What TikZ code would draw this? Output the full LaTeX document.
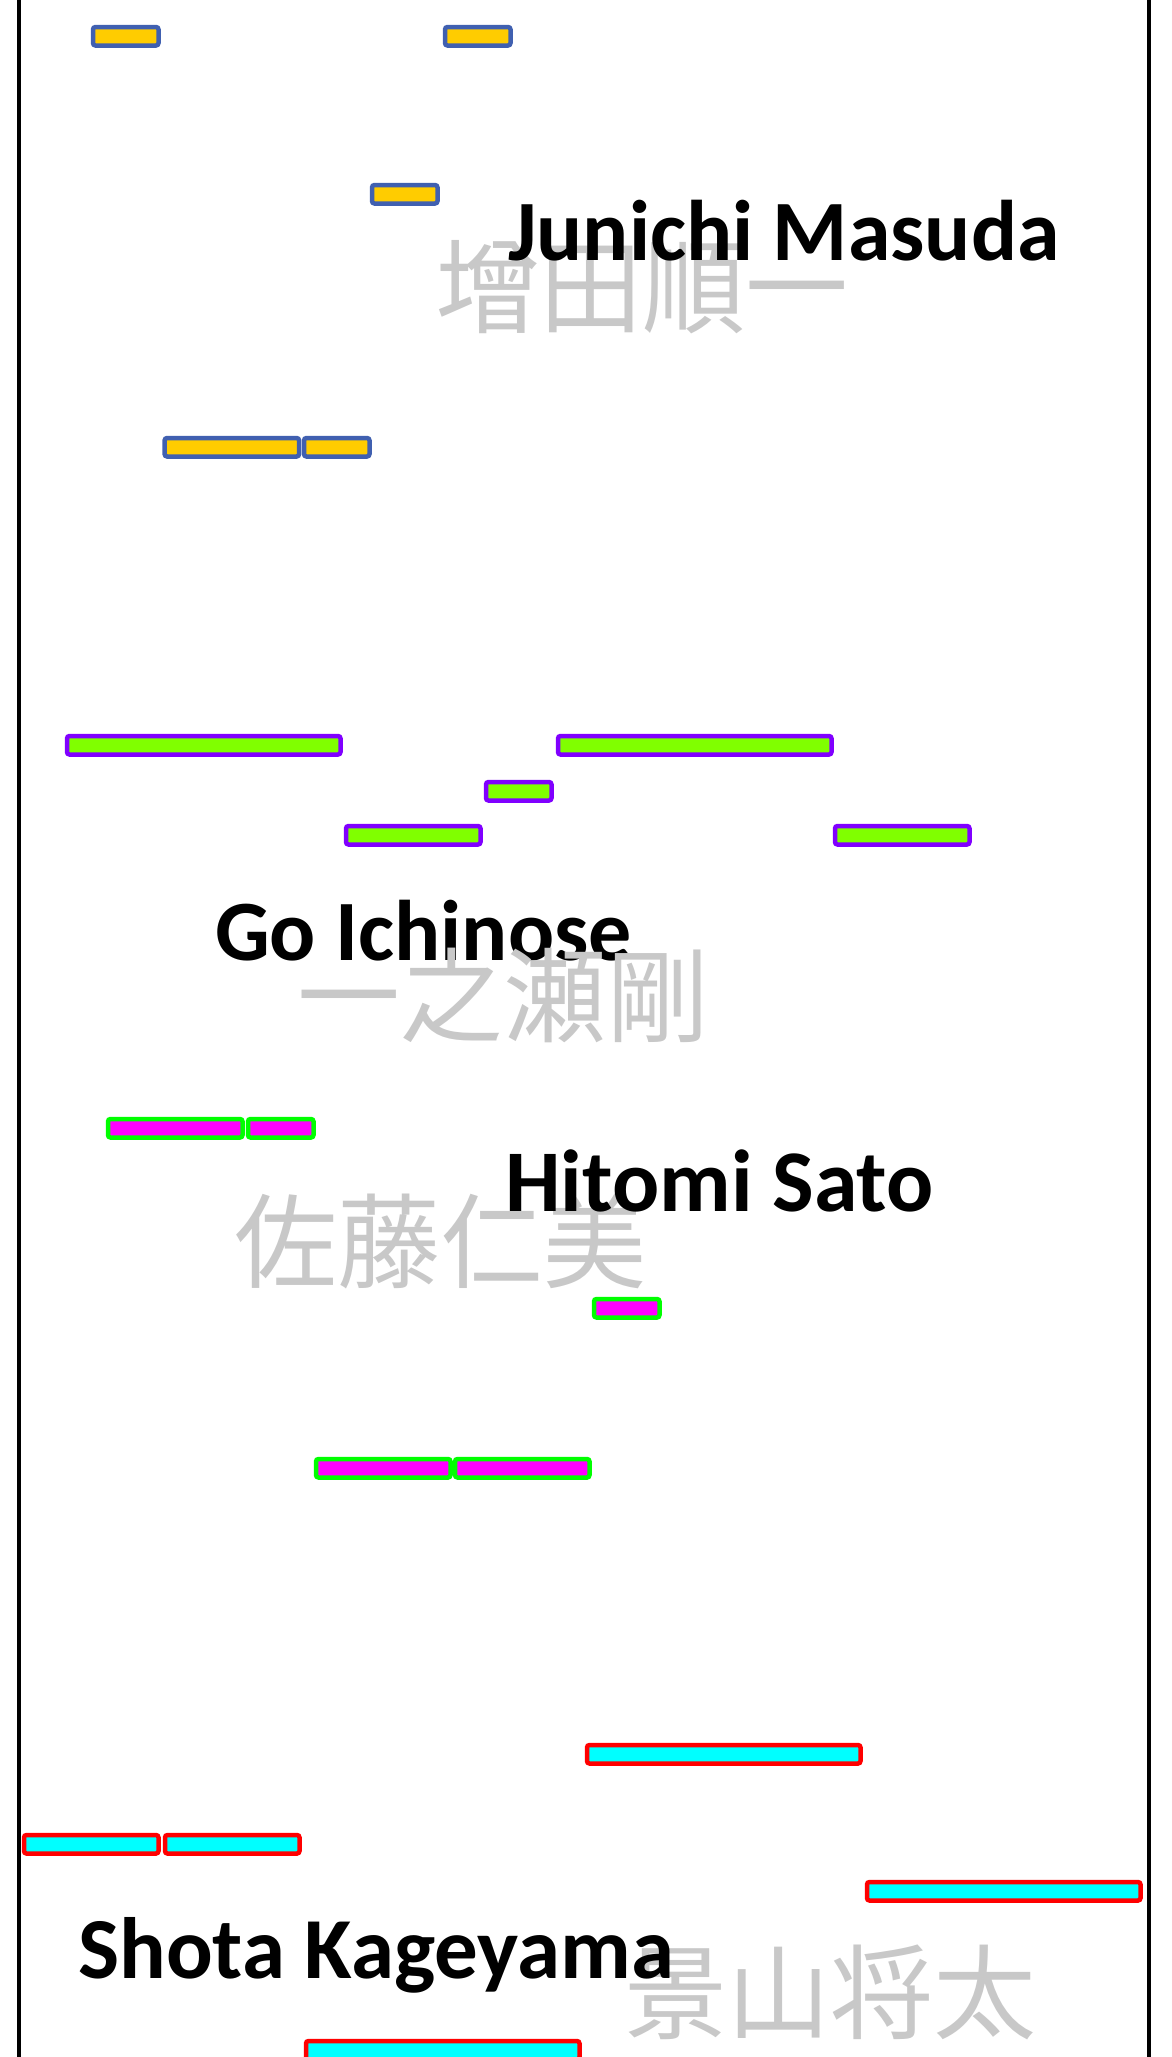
\documentclass[tikz,border=0pt]{standalone}
\usepackage{fontspec}
\setmainfont{Carlito}
\newfontfamily\cjk{Noto Sans CJK JP}
\definecolor{ybord}{RGB}{64,96,176}
\definecolor{yfill}{RGB}{255,204,0}
\definecolor{pbord}{RGB}{128,0,255}
\definecolor{pfill}{RGB}{128,255,0}
\definecolor{mbord}{RGB}{0,255,0}
\definecolor{mfill}{RGB}{255,0,255}
\definecolor{cbord}{RGB}{255,0,0}
\definecolor{cfill}{RGB}{0,255,255}
\definecolor{kgray}{RGB}{200,200,200}
\tikzset{
  bar/.style={draw, line width=4.5pt, rounded corners=2.5pt, inner sep=0pt,
    minimum height=18.5pt, anchor=north west},
  u1/.style={minimum width=65.5pt},
  u2/.style={minimum width=134.5pt},
  u4/.style={minimum width=273.5pt},
  ybar/.style={bar, draw=ybord, fill=yfill},
  pbar/.style={bar, draw=pbord, fill=pfill},
  mbar/.style={bar, draw=mbord, fill=mfill},
  cbar/.style={bar, draw=cbord, fill=cfill},
  person/.style={font=\fontsize{86}{90}\selectfont\bfseries, anchor=base west, inner sep=0pt, text=black},
  kanji/.style={font=\cjk\fontsize{103}{103}\selectfont, text=kgray, inner sep=0pt},
  frame/.style={line width=4.5pt, draw=black}
}
\begin{document}
\begin{tikzpicture}[x=1pt, y=-1pt]
\useasboundingbox (0,0) rectangle (1172,2057);
\clip (0,0) rectangle (1172,2057);
% frame lines
\coordinate (lt) at (19,0); \coordinate (lb) at (19,2057);
\coordinate (rt) at (1149,0); \coordinate (rb) at (1149,2057);
\draw[frame] (lt) -- (lb);
\draw[frame] (rt) -- (rb);
% yellow bars
\node[ybar,u1] (y1) at (90.75,24.75) {};
\node[ybar,u1] (y2) at (442.75,24.75) {};
\node[ybar,u1] (y3) at (369.75,182.75) {};
\node[ybar,u2] (y4) at (162.35,435.75) {};
\node[ybar,u1] (y5) at (301.75,435.75) {};
% purple/green bars
\node[pbar,u4] (p1) at (64.75,733.75) {};
\node[pbar,u4] (p2) at (555.75,733.75) {};
\node[pbar,u1] (p3) at (483.75,779.75) {};
\node[pbar,u2] (p4) at (343.75,823.75) {};
\node[pbar,u2] (p5) at (832.75,823.75) {};
% magenta bars
\node[mbar,u2] (m1) at (105.75,1116.75) {};
\node[mbar,u1] (m2) at (245.75,1116.75) {};
\node[mbar,u1] (m3) at (591.75,1296.75) {};
\node[mbar,u2] (m4) at (313.75,1456.75) {};
\node[mbar,u2] (m5) at (452.75,1456.75) {};
% cyan bars
\node[cbar,u4] (c1) at (584.75,1742.75) {};
\node[cbar,u2] (c2) at (21.75,1832.75) {};
\node[cbar,u2] (c3) at (162.75,1832.75) {};
\node[cbar,u4] (c4) at (864.75,1879.75) {};
\node[cbar,u4] (c5) at (303.75,2038.75) {};
% names
\node[kanji] (k1) at (642.5,287.5) {增田順一};
\node[person] (n1) at (508,260) {Junichi Masuda};
\node[person] (n2) at (215,960) {Go Ichinose};
\node[kanji] (k2) at (503,995) {一之瀬剛};
\node[kanji] (k3) at (440.5,1241.5) {佐藤仁美};
\node[person, font=\fontsize{88}{90}\selectfont\bfseries] (n3) at (505,1211) {Hitomi Sato};
\node[kanji] (k4) at (830,1992) {景山将太};
\node[person, font=\fontsize{87}{90}\selectfont\bfseries] (n4) at (78,1978) {Shota Kageyama};
\end{tikzpicture}
\end{document}
